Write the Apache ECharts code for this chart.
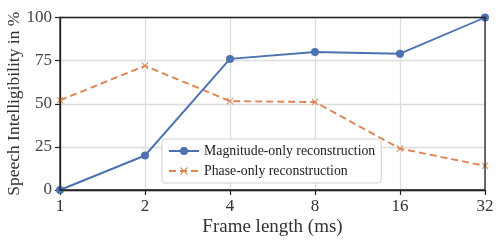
<!DOCTYPE html>
<html><head><meta charset="utf-8">
<script src="https://cdn.jsdelivr.net/npm/echarts@6/dist/echarts.min.js"></script>
<style>html,body{margin:0;padding:0;background:#fff}#c{width:499px;height:241px}</style>
</head><body><div id="c"></div>
<script>
const categories = ['1','2','4','8','16','32'];
const magnitudeOnly = [0, 20, 76, 80, 79, 100];
const phaseOnly = [52, 72, 51.5, 51, 24, 14];
const yTicks = [0, 25, 50, 75, 100];

const FONT = '"Liberation Serif", "Times New Roman", serif';
const xPath = 'path://M1,0 L5,4 L9,0 L10,1 L6,5 L10,9 L9,10 L5,6 L1,10 L0,9 L4,5 L0,1 Z';
const chart = echarts.init(document.getElementById('c'), null, {renderer: 'canvas'});
chart.setOption({
  animation: false,
  textStyle: {fontFamily: FONT},
  grid: {left: 60, right: 14, top: 17.5, bottom: 51, containLabel: false, outerBoundsMode: 'none'},
  xAxis: {
    type: 'category', data: categories, boundaryGap: false,
    name: 'Frame length (ms)', nameLocation: 'middle', nameGap: 28, nameMoveOverlap: false,
    nameTextStyle: {fontFamily: FONT, fontSize: 19, color: '#333'},
    axisLine: {show: true, lineStyle: {color: '#222', width: 1.3}},
    axisTick: {show: true, length: 5, lineStyle: {color: '#222', width: 1.2}},
    axisLabel: {fontFamily: FONT, fontSize: 17, color: '#333', margin: 8},
    splitLine: {show: true, lineStyle: {color: '#dcdcdc', width: 1.3}}
  },
  yAxis: {
    type: 'value', min: 0, max: 100, interval: 25,
    name: 'Speech Intelligibility in %', nameLocation: 'middle', nameGap: 37, nameMoveOverlap: false,
    nameTextStyle: {fontFamily: FONT, fontSize: 17.5, color: '#333'},
    axisLine: {show: true, lineStyle: {color: '#222', width: 1.3}},
    axisTick: {show: true, length: 5, lineStyle: {color: '#222', width: 1.2}},
    axisLabel: {fontFamily: FONT, fontSize: 17, color: '#444', margin: 8,
      formatter: v => yTicks.includes(v) ? String(v) : ''},
    splitLine: {show: true, lineStyle: {color: '#dcdcdc', width: 1.3}}
  },
  graphic: [{type: 'rect', shape: {x: 60, y: 17.5, width: 425, height: 172.5}, silent: true, z: 10,
    style: {fill: 'none', stroke: '#222', lineWidth: 1.3}}],
  legend: {
    left: 162, top: 139, orient: 'vertical', itemGap: 6, itemWidth: 30, itemHeight: 10,
    backgroundColor: 'rgba(255,255,255,0.85)', borderColor: '#d0d0d0', borderWidth: 1, borderRadius: 3,
    padding: [5, 6, 5, 6],
    textStyle: {fontFamily: FONT, fontSize: 13.8, color: '#222'},
    data: [{name: 'Magnitude-only reconstruction'}, {name: 'Phase-only reconstruction'}]
  },
  series: [
    {name: 'Magnitude-only reconstruction', type: 'line', data: magnitudeOnly,
      symbol: 'circle', symbolSize: 8, color: '#4c72b0',
      lineStyle: {width: 1.9, color: '#4c72b0'}, itemStyle: {color: '#4c72b0'}, z: 5},
    {name: 'Phase-only reconstruction', type: 'line', data: phaseOnly,
      symbol: xPath, symbolSize: 7, color: '#dd8452',
      lineStyle: {width: 1.9, type: [7, 4], color: '#dd8452'}, itemStyle: {color: '#dd8452'}, z: 4}
  ]
});
</script></body></html>
